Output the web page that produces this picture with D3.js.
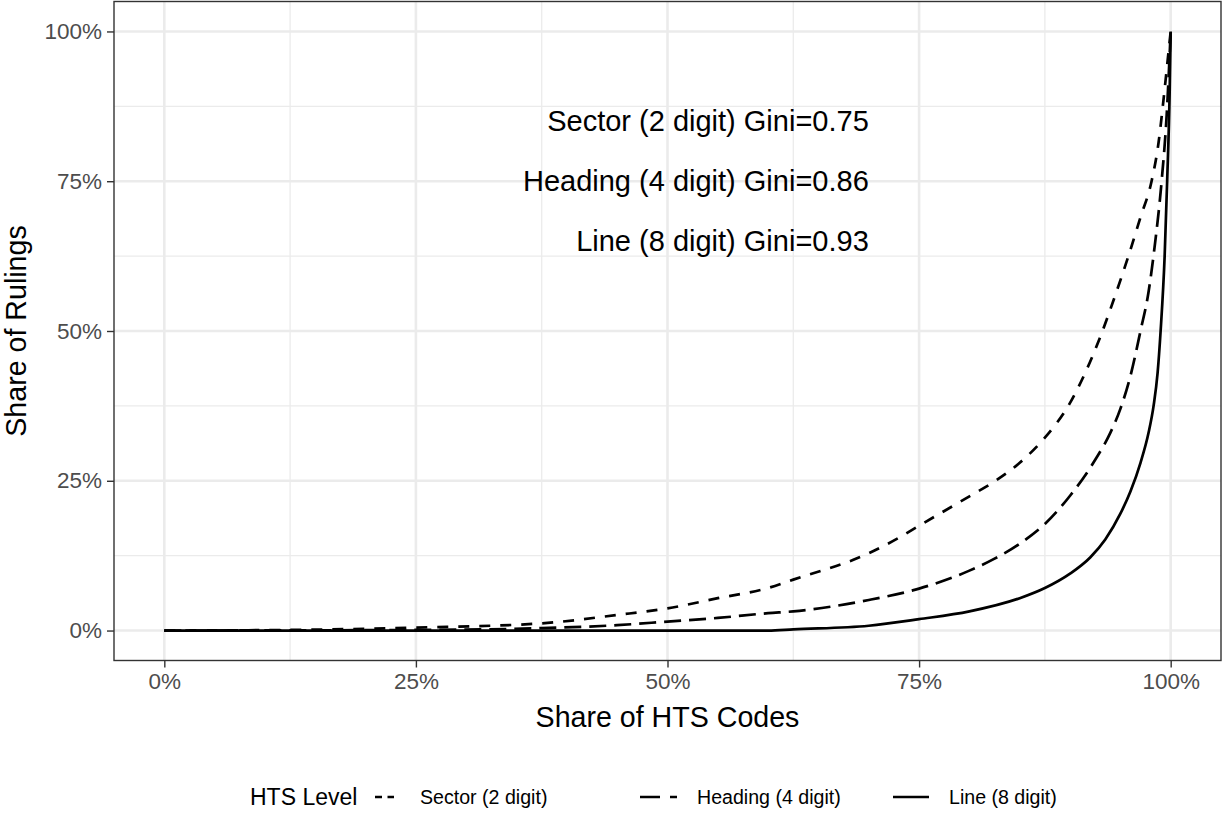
<!DOCTYPE html>
<html>
<head>
    <meta charset="utf-8">
    <title>Lorenz curves of rulings</title>
    <script src="https://d3js.org/d3.v7.min.js"></script>
    <style>
        body { margin: 0; background: #fff; }
        svg text { font-family: "Liberation Sans", Arial, sans-serif; }
    </style>
</head>
<body>
    <div id="home"></div>

    <script>
        // cumulative share of HTS codes (x) vs cumulative share of rulings (y)
        const sectorX  = [0, 0.125, 0.25, 0.375, 0.45, 0.5, 0.55, 0.6, 0.625, 0.7, 0.73, 0.75, 0.8, 0.826, 0.85, 0.875, 0.9, 0.915, 0.93, 0.945, 0.958, 0.97, 0.981, 0.988, 0.993, 0.9975, 1]
        const sectorY  = [0, 0.001, 0.005, 0.012, 0.026, 0.037, 0.054, 0.071, 0.085, 0.129, 0.155, 0.175, 0.224, 0.25, 0.28, 0.322, 0.38, 0.43, 0.49, 0.56, 0.625, 0.69, 0.75, 0.815, 0.888, 0.96, 1]

        const headingX = [0, 0.25, 0.375, 0.45, 0.5, 0.55, 0.6, 0.625, 0.7, 0.75, 0.8, 0.825, 0.85, 0.875, 0.9, 0.925, 0.94, 0.95, 0.96, 0.97, 0.978, 0.984, 0.991, 0.996, 1]
        const headingY = [0, 0.001, 0.004, 0.009, 0.015, 0.021, 0.029, 0.032, 0.051, 0.07, 0.1, 0.12, 0.145, 0.178, 0.225, 0.285, 0.33, 0.37, 0.425, 0.5, 0.565, 0.64, 0.75, 0.86, 1]

        const lineX    = [0, 0.6, 0.625, 0.7, 0.75, 0.8, 0.85, 0.875, 0.9, 0.92, 0.935, 0.95, 0.96, 0.97, 0.978, 0.983, 0.987, 0.99, 0.994, 0.9965, 0.999, 1]
        const lineY    = [0, 0, 0.002, 0.008, 0.019, 0.032, 0.054, 0.071, 0.095, 0.122, 0.152, 0.195, 0.232, 0.28, 0.33, 0.375, 0.43, 0.5, 0.625, 0.75, 0.9, 1]

        const levels = ['Sector (2 digit)', 'Heading (4 digit)', 'Line (8 digit)']
        const ginis  = ['0.75', '0.86', '0.93']
        const majorTicks = [0, 0.25, 0.5, 0.75, 1]
        const minorTicks = [0.125, 0.375, 0.625, 0.875]

        const w = 1222
        const h = 815
        const panel = { left: 114, right: 1221, top: 1.5, bottom: 660.5 }

        const svg = d3.select("#home")
                      .append("svg")
                      .attr("width", w)
                      .attr("height", h)

        // ggplot style 5% expansion on both axes
        const xScale = d3.scaleLinear()
                         .domain([-0.05, 1.05])
                         .range([panel.left, panel.right])
        const yScale = d3.scaleLinear()
                         .domain([-0.05, 1.05])
                         .range([panel.bottom, panel.top])

        // grid
        const grid = svg.append("g")
        grid.selectAll(".minor-x")
            .data(minorTicks)
            .enter()
            .append("line")
            .attr("x1", d => xScale(d)).attr("x2", d => xScale(d))
            .attr("y1", panel.top).attr("y2", panel.bottom)
            .style("stroke", "#EBEBEB").style("stroke-width", 1.3)
        grid.selectAll(".minor-y")
            .data(minorTicks)
            .enter()
            .append("line")
            .attr("y1", d => yScale(d)).attr("y2", d => yScale(d))
            .attr("x1", panel.left).attr("x2", panel.right)
            .style("stroke", "#EBEBEB").style("stroke-width", 1.3)
        grid.selectAll(".major-x")
            .data(majorTicks)
            .enter()
            .append("line")
            .attr("x1", d => xScale(d)).attr("x2", d => xScale(d))
            .attr("y1", panel.top).attr("y2", panel.bottom)
            .style("stroke", "#EBEBEB").style("stroke-width", 2.6)
        grid.selectAll(".major-y")
            .data(majorTicks)
            .enter()
            .append("line")
            .attr("y1", d => yScale(d)).attr("y2", d => yScale(d))
            .attr("x1", panel.left).attr("x2", panel.right)
            .style("stroke", "#EBEBEB").style("stroke-width", 2.6)

        // curves
        const series = [
            { name: levels[0], xs: sectorX,  ys: sectorY,  dash: "11,10" },
            { name: levels[1], xs: headingX, ys: headingY, dash: "17,8" },
            { name: levels[2], xs: lineX,    ys: lineY,    dash: null }
        ]

        const line = d3.line()
                       .x(d => xScale(d[0]))
                       .y(d => yScale(d[1]))
                       .curve(d3.curveMonotoneX)

        svg.selectAll(".curve")
           .data(series)
           .enter()
           .append("path")
           .attr("class", "curve")
           .attr("d", d => line(d.xs.map((x, i) => [x, d.ys[i]])))
           .style("fill", "none")
           .style("stroke", "#000")
           .style("stroke-width", 2.7)
           .style("stroke-dasharray", d => d.dash)

        // panel border
        svg.append("rect")
           .attr("x", panel.left)
           .attr("y", panel.top)
           .attr("width", panel.right - panel.left)
           .attr("height", panel.bottom - panel.top)
           .style("fill", "none")
           .style("stroke", "#333333")
           .style("stroke-width", 1.4)

        // axes
        const pct = d3.format(".0%")
        const xAxis = d3.axisBottom(xScale).tickValues(majorTicks).tickFormat(pct).tickSize(7).tickPadding(6)
        const yAxis = d3.axisLeft(yScale).tickValues(majorTicks).tickFormat(pct).tickSize(7).tickPadding(5)

        const gx = svg.append("g")
                      .attr("transform", `translate(0, ${panel.bottom})`)
                      .call(xAxis)
        const gy = svg.append("g")
                      .attr("transform", `translate(${panel.left}, 0)`)
                      .call(yAxis)
        gx.select(".domain").remove()
        gy.select(".domain").remove()
        svg.selectAll(".tick line").style("stroke", "#333333").style("stroke-width", 1.4)
        svg.selectAll(".tick text")
           .style("font-size", "22.5px")
           .style("fill", "#4D4D4D")
           .style("font-family", "'Liberation Sans', Arial, sans-serif")

        // axis titles
        svg.append("text")
           .attr("x", (panel.left + panel.right) / 2)
           .attr("y", 717)
           .attr("dy", "0.35em")
           .attr("text-anchor", "middle")
           .style("font-size", "28.6px")
           .text("Share of HTS Codes")
        svg.append("text")
           .attr("transform", `translate(15.5, ${(panel.top + panel.bottom) / 2}) rotate(-90)`)
           .attr("dy", "0.35em")
           .attr("text-anchor", "middle")
           .style("font-size", "28.6px")
           .text("Share of Rulings")

        // gini annotations
        const labelY = [0.85, 0.75, 0.65]
        svg.selectAll(".gini")
           .data(levels)
           .enter()
           .append("text")
           .attr("class", "gini")
           .attr("x", xScale(0.7))
           .attr("y", (d, i) => yScale(labelY[i]))
           .attr("dy", "0.35em")
           .attr("text-anchor", "end")
           .style("font-size", "29px")
           .text((d, i) => d + " Gini=" + ginis[i])

        // legend
        const legendY = 797
        svg.append("text")
           .attr("x", 250)
           .attr("y", legendY)
           .attr("dy", "0.35em")
           .style("font-size", "23px")
           .text("HTS Level")

        const keys = [
            { x1: 375, x2: 394, dash: "7,5.5", tx: 420 },
            { x1: 640, x2: 677, dash: "20,10", tx: 697 },
            { x1: 893, x2: 929, dash: null, tx: 949 }
        ]
        const legend = svg.selectAll(".key")
                          .data(keys)
                          .enter()
                          .append("g")
                          .attr("class", "key")
        legend.append("line")
              .attr("x1", d => d.x1).attr("x2", d => d.x2)
              .attr("y1", legendY).attr("y2", legendY)
              .style("stroke", "#000")
              .style("stroke-width", 2.4)
              .style("stroke-dasharray", d => d.dash)
        legend.append("text")
              .attr("x", d => d.tx)
              .attr("y", legendY)
              .attr("dy", "0.35em")
              .style("font-size", "19.6px")
              .text((d, i) => levels[i])
    </script>
</body>
</html>
